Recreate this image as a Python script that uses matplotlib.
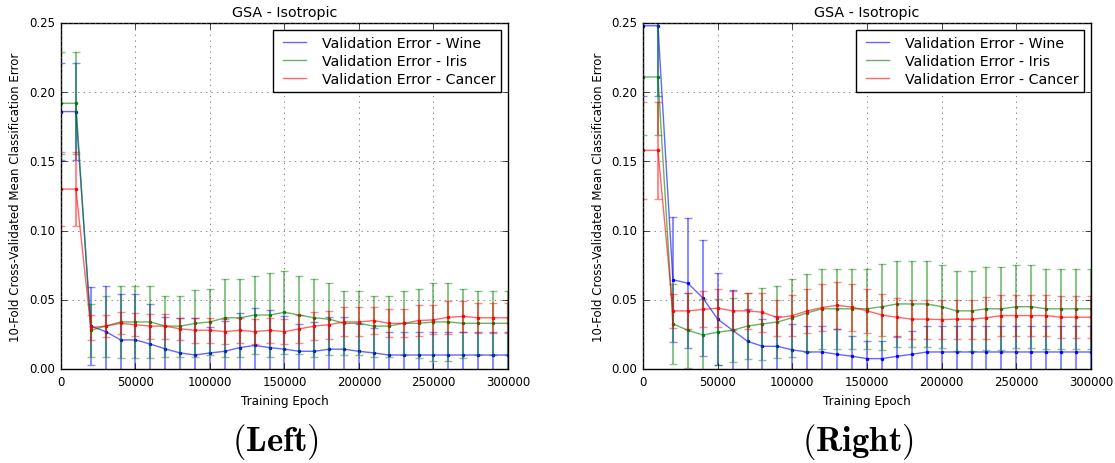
import numpy as np
from matplotlib import pyplot as plt

plt.style.use('classic')
plt.rcParams['figure.facecolor'] = 'white'
plt.rcParams['savefig.facecolor'] = 'white'
plt.rcParams['mathtext.fontset'] = 'cm'

epochs = np.arange(0, 300001, 10000)

# left panel
left_wine = [0.186, 0.186, 0.031, 0.027, 0.021, 0.021, 0.018, 0.0145, 0.0116, 0.0101,
             0.0116, 0.0128, 0.0155, 0.017, 0.0155, 0.0143, 0.0128, 0.0128, 0.0143, 0.0143,
             0.0128, 0.0116] + [0.0101] * 9
left_wine_err = [0.035, 0.035, 0.028, 0.033, 0.033, 0.033, 0.029, 0.023, 0.025, 0.027,
                 0.019, 0.022, 0.025, 0.027, 0.027, 0.024, 0.020, 0.021, 0.023, 0.023,
                 0.020, 0.018] + [0.0165] * 9
left_iris = [0.192, 0.192, 0.028, 0.031, 0.034, 0.034, 0.034, 0.031, 0.031, 0.033,
             0.034, 0.037, 0.037, 0.039, 0.039, 0.041, 0.039, 0.037, 0.036, 0.033,
             0.033, 0.031, 0.031, 0.033, 0.033, 0.034, 0.034, 0.033, 0.033, 0.033, 0.033]
left_iris_err = [0.037, 0.037, 0.019, 0.022, 0.026, 0.026, 0.026, 0.022, 0.022, 0.024,
                 0.024, 0.028, 0.028, 0.028, 0.030, 0.030, 0.028, 0.028, 0.026, 0.023,
                 0.023, 0.022, 0.022, 0.023, 0.025, 0.028, 0.028, 0.025, 0.023, 0.023, 0.023]
left_cancer = [0.130, 0.130, 0.030, 0.031, 0.033, 0.032, 0.031, 0.031, 0.029, 0.028,
               0.028, 0.027, 0.028, 0.027, 0.028, 0.027, 0.029, 0.031, 0.032, 0.034,
               0.034, 0.035, 0.033, 0.033, 0.035, 0.0355, 0.0374, 0.038, 0.037, 0.037, 0.037]
left_cancer_err = [0.027, 0.027, 0.009, 0.008, 0.008, 0.0085, 0.009, 0.009, 0.008, 0.009,
                   0.009, 0.009, 0.009, 0.009, 0.009, 0.009, 0.010, 0.010, 0.010, 0.0105,
                   0.0105, 0.010, 0.010, 0.010, 0.011, 0.0105, 0.012, 0.011, 0.011, 0.011, 0.011]

# right panel
right_wine = [0.248, 0.248, 0.0645, 0.062, 0.0514, 0.036, 0.028, 0.020, 0.0164, 0.0164,
              0.0138, 0.0123, 0.0123, 0.0106, 0.0092, 0.0075, 0.0075, 0.0092, 0.0106] + [0.0123] * 12
right_wine_err = [0.051, 0.051, 0.045, 0.047, 0.042, 0.033, 0.029, 0.023, 0.020, 0.022,
                  0.019, 0.019, 0.019, 0.018, 0.015, 0.0125, 0.0125, 0.015, 0.017] + [0.019] * 12
right_iris = [0.211, 0.211, 0.0326, 0.028, 0.0246, 0.0266, 0.028, 0.031, 0.0326, 0.034,
              0.037, 0.0406, 0.0435, 0.0435, 0.0435, 0.0435, 0.045, 0.047, 0.047, 0.047,
              0.045, 0.042, 0.042, 0.0435, 0.0435, 0.045, 0.045, 0.0435, 0.0435, 0.0435, 0.0435]
right_iris_err = [0.042, 0.042, 0.029, 0.027, 0.026, 0.024, 0.023, 0.024, 0.026, 0.026,
                  0.028, 0.028, 0.029, 0.029, 0.029, 0.029, 0.031, 0.031, 0.031, 0.031,
                  0.030, 0.029, 0.029, 0.030, 0.030, 0.030, 0.030, 0.029, 0.029, 0.029, 0.029]
right_cancer = [0.158, 0.158, 0.042, 0.042, 0.043, 0.044, 0.042, 0.042, 0.041, 0.037,
                0.0386, 0.042, 0.0444, 0.046, 0.0447, 0.042, 0.039, 0.0374, 0.036, 0.036,
                0.0357, 0.036, 0.036, 0.037, 0.0386, 0.0386, 0.0386, 0.0386, 0.0374, 0.0374, 0.0374]
right_cancer_err = [0.035, 0.035, 0.0125, 0.013, 0.013, 0.014, 0.014, 0.013, 0.014, 0.013,
                    0.015, 0.016, 0.017, 0.017, 0.017, 0.016, 0.015, 0.014, 0.014, 0.014,
                    0.014, 0.014, 0.014, 0.015, 0.015, 0.015, 0.015, 0.015, 0.015, 0.015, 0.015]

names = ['Wine', 'Iris', 'Cancer']
colors = ['b', 'g', 'r']


def panel(ax, series, errs):
    for name, c, y, e in zip(names, colors, series, errs):
        ax.errorbar(epochs, y, yerr=e, fmt='none', ecolor=c, alpha=0.45,
                    elinewidth=1.5, capsize=3, capthick=1)
        ax.plot(epochs, y, color=c, alpha=0.6, lw=1, label='Validation Error - ' + name)
        ax.plot(epochs, y, 'o', color=c, ms=2.5, mec=c, mew=0)
    ax.set_xlim(0, 300000)
    ax.set_ylim(0, 0.25)
    ax.set_xticks(np.arange(0, 300001, 50000))
    ax.set_yticks(np.arange(0, 0.2501, 0.05))
    ax.yaxis.set_major_formatter(plt.FormatStrFormatter('%.2f'))
    ax.tick_params(labelsize=8.5)
    ax.grid(True, color='0.35')
    ax.set_title('GSA - Isotropic', fontsize=10.3)
    ax.set_xlabel('Training Epoch', fontsize=8.6)
    ax.set_ylabel('10-Fold Cross-Validated Mean Classification Error', fontsize=8.5)
    ax.legend(loc='upper right', fontsize=10.2, handlelength=2.2, borderpad=0.4,
              labelspacing=0.3)


fig = plt.figure(figsize=(11.15, 4.64), dpi=100)
ax1 = fig.add_axes([0.0547, 0.2026, 0.4009, 0.7457])
ax2 = fig.add_axes([0.5767, 0.2026, 0.4018, 0.7457])
panel(ax1, [left_wine, left_iris, left_cancer], [left_wine_err, left_iris_err, left_cancer_err])
panel(ax2, [right_wine, right_iris, right_cancer], [right_wine_err, right_iris_err, right_cancer_err])

fig.text(0.2466, 0.047, r'$\mathbf{(Left)}$', ha='center', va='center', fontsize=25)
fig.text(0.7695, 0.047, r'$\mathbf{(Right)}$', ha='center', va='center', fontsize=25)

fig.savefig('out.png', dpi=100)
